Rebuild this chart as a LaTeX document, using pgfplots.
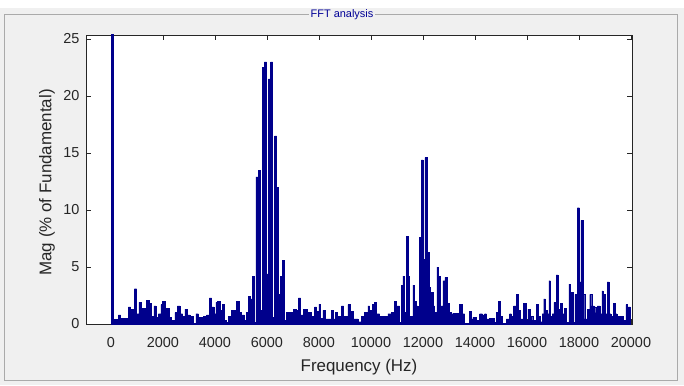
\documentclass[border=0pt]{standalone}
\usepackage{fontspec}
\setmainfont{Liberation Sans}
\usepackage{pgfplots}
\pgfplotsset{compat=1.18}
\definecolor{panelbg}{RGB}{240,240,240}
\definecolor{panelline}{RGB}{170,170,170}
\definecolor{barcol}{RGB}{0,0,140}
\definecolor{axcol}{RGB}{38,38,38}
\definecolor{titleblue}{RGB}{0,0,150}
\begin{document}
\begin{tikzpicture}[x=1bp,y=1bp]
\path[use as bounding box] (0,0) rectangle (684,385);
\fill[white] (0,0) rectangle (684,385);
\fill[panelbg] (0,0) rectangle (684,377);
\draw[panelline, line width=0.8bp] (4.5,4.5) rectangle (677,371);
\begin{axis}[
  at={(86bp,61bp)}, anchor=south west,
  scale only axis, width=546bp, height=289bp,
  xmin=-960, xmax=20040, ymin=0, ymax=25.35,
  axis background/.style={fill=white},
  axis line style={axcol, line width=0.7bp},
  tick style={axcol, line width=0.6bp},
  major tick length=5bp, tick align=inside,
  xtick={0,2000,...,20000}, ytick={0,5,10,15,20,25},
  scaled x ticks=false,
  /pgf/number format/1000 sep={},
  /pgf/number format/assume math mode=true,
  ticklabel style={font=\fontsize{14.5}{16}\selectfont, text=axcol},
  xticklabel style={yshift=-10bp},
  yticklabel style={xshift=-3bp},
  xlabel={Frequency (Hz)}, ylabel={Mag (\% of Fundamental)},
  label style={font=\fontsize{17}{20}\selectfont, text=axcol},
  xlabel style={at={(axis description cs:0.5,-0.149)}, anchor=center},
  ylabel style={at={(axis description cs:-0.0714,0.49)}, anchor=center},
  clip=true,
]
\addplot[ybar interval, fill=barcol, draw=barcol, line width=0.3bp] coordinates {
(20,100) (90,0.4) (282,0.8) (372,0.5) (667,1.5) (756,1.3) (897,3.1) (987,0.9)
(1077,1.9) (1154,1.4) (1308,0.7) (1372,2.1) (1461,1.8) (1564,0.7) (1654,1.6)
(1731,0.6) (1820,0.9) (1923,1.7) (1987,2.0) (2077,1.0) (2141,1.4) (2231,0.6)
(2333,0.35) (2461,1.0) (2551,1.6) (2654,0.9) (2756,0.7) (2846,1.3) (2936,0.8)
(3038,0.7) (3167,0.05) (3269,0.9) (3359,0.6) (3551,0.7) (3679,0.8) (3782,2.3)
(3872,1.5) (3961,0.9) (4038,1.9) (4102,2.0) (4192,1.2) (4295,1.7) (4359,0.35)
(4449,0.15) (4513,0.7) (4641,1.2) (4833,2.0) (4923,1.0) (5025,0.8) (5128,0.35)
(5218,1.0) (5282,2.4) (5346,2.2) (5436,4.2) (5513,0.15) (5577,12.9) (5667,13.5)
(5756,1.2) (5833,22.5) (5897,23.0) (5987,4.4) (6051,21.5) (6141,23.0) (6218,0.6)
(6295,16.5) (6372,12.0) (6449,2.6) (6525,4.2) (6602,5.6) (6679,0.3) (6756,1.0)
(7013,1.3) (7141,1.2) (7205,2.3) (7295,0.8) (7397,1.3) (7538,1.0) (7705,0.7)
(7833,1.5) (7897,1.1) (8000,1.75) (8064,0.5) (8154,1.2) (8231,0.45) (8474,1.2)
(8538,0.45) (8628,1.0) (8705,0.7) (8859,1.6) (8949,0.7) (9115,1.7) (9205,1.1)
(9308,0.45) (9500,0.2) (9628,0.7) (9756,1.0) (9885,1.6) (9949,1.2) (10051,1.75)
(10141,1.9) (10205,0.9) (10333,0.7) (10526,0.65) (10654,0.9) (10782,1.0)
(10910,2.0) (10974,1.6) (11102,0.15) (11167,3.4) (11231,4.2) (11295,1.0)
(11359,7.7) (11423,4.2) (11487,0.7) (11615,3.4) (11679,2.0) (11743,1.6)
(11808,1.2) (11872,7.6) (11936,14.4) (12000,5.7) (12077,14.6) (12154,6.3)
(12231,3.2) (12295,2.8) (12384,1.6) (12449,1.0) (12538,5.0) (12603,4.2)
(12679,1.6) (12769,3.8) (12846,4.1) (12923,1.8) (13000,1.0) (13090,0.9)
(13179,0.95) (13282,0.95) (13410,1.7) (13500,0.9) (13602,0.05) (13795,1.1)
(13859,0.45) (13923,0.6) (14051,0.35) (14179,0.9) (14282,0.8) (14372,0.9)
(14436,0.45) (14564,0.5) (14756,0.15) (14820,1.0) (14897,2.0) (14974,0.7)
(15051,0.05) (15205,0.45) (15333,0.9) (15397,0.7) (15487,1.6) (15590,2.6)
(15654,1.2) (15742,0.45) (15871,1.8) (15961,0.3) (16039,1.3) (16129,0.7)
(16219,0.35) (16348,1.7) (16426,0.7) (16516,0.2) (16581,0.9) (16645,2.2)
(16710,1.2) (16774,0.9) (16839,3.8) (16903,0.7) (16968,0.9) (17032,1.9)
(17122,4.3) (17200,1.3) (17290,1.8) (17355,0.9) (17445,1.4) (17522,0.15)
(17613,3.5) (17677,2.8) (17767,0.15) (17845,2.6) (17935,10.2) (18012,3.7)
(18077,9.1) (18155,2.6) (18219,0.45) (18322,1.3) (18412,2.6) (18490,1.6)
(18580,1.5) (18645,1.0) (18709,1.6) (18800,0.9) (18877,2.9) (18928,2.6)
(19006,0.9) (19083,3.7) (19160,0.9) (19225,0.7) (19315,1.8) (19393,0.9)
(19457,0.7) (19548,0.65) (19612,0.65) (19703,0.35) (19806,1.7) (19870,1.5)
(19980,0)
};
\end{axis}
\node[fill=panelbg, inner xsep=2bp, inner ysep=1bp, text=titleblue, font=\fontsize{11}{13}\selectfont] at (342,370) {FFT analysis};
\end{tikzpicture}
\end{document}
